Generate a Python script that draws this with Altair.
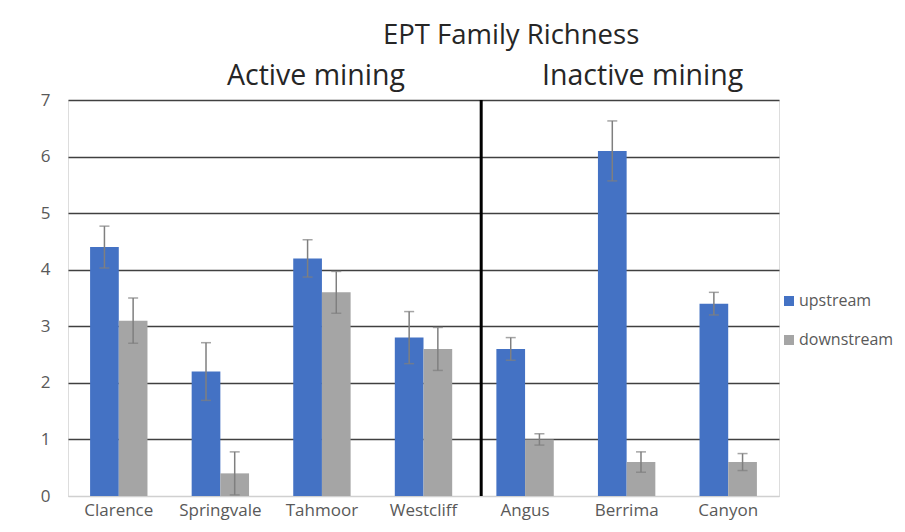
import altair as alt
import pandas as pd

sites = ["Clarence", "Springvale", "Tahmoor", "Westcliff", "Angus", "Berrima", "Canyon"]
streams = ["upstream", "downstream"]
upstream = [4.4, 2.2, 4.2, 2.8, 2.6, 6.1, 3.4]
downstream = [3.1, 0.4, 3.6, 2.6, 1.0, 0.6, 0.6]
up_err = [0.37, 0.51, 0.33, 0.46, 0.2, 0.53, 0.2]
down_err = [0.4, 0.38, 0.37, 0.38, 0.1, 0.18, 0.15]
y_ticks = [0, 1, 2, 3, 4, 5, 6, 7]
colors = ["#4472C4", "#A5A5A5"]

rows = []
for i, s in enumerate(sites):
    rows.append({"site": s, "stream": "upstream", "value": upstream[i],
                 "lo": upstream[i] - up_err[i], "hi": upstream[i] + up_err[i]})
    rows.append({"site": s, "stream": "downstream", "value": downstream[i],
                 "lo": downstream[i] - down_err[i], "hi": downstream[i] + down_err[i]})
df = pd.DataFrame(rows)

FONT = "Open Sans"

xenc = alt.X("site:N", sort=sites,
             scale=alt.Scale(paddingInner=0.435, paddingOuter=0.2175),
             axis=alt.Axis(title=None, labelAngle=0, labelFontSize=17, labelColor="#595959",
                           labelFont=FONT, ticks=False, domainColor="#d0d0d0",
                           domainWidth=1, labelPadding=6))
xoff = alt.XOffset("stream:N", sort=streams, scale=alt.Scale(paddingInner=0, paddingOuter=0))
yscale = alt.Scale(domain=[0, 7], nice=False)

base = alt.Chart(df)

bars = base.mark_bar().encode(
    x=xenc,
    xOffset=xoff,
    y=alt.Y("value:Q", scale=yscale,
            axis=alt.Axis(title=None, values=y_ticks, format="d", labelFontSize=17,
                          labelColor="#595959",
                          labelFont=FONT, ticks=False, domain=False, labelPadding=18,
                          gridColor=alt.condition("datum.value == 0", alt.value("#d0d0d0"), alt.value("#404040")),
                          gridWidth=1.3)),
    color=alt.Color("stream:N", sort=streams,
                    scale=alt.Scale(domain=streams, range=colors),
                    legend=alt.Legend(title=None, orient="none", legendX=713, legendY=193,
                                      symbolType="square", symbolSize=100, symbolStrokeWidth=0,
                                      labelFontSize=16, labelColor="#595959", labelFont=FONT,
                                      rowPadding=23, labelOffset=2, labelLimit=200)),
)

err = base.mark_rule(color="#7f7f7f", strokeWidth=1.5).encode(
    x=alt.X("site:N", sort=sites),
    xOffset=xoff,
    y=alt.Y("lo:Q", scale=yscale),
    y2="hi:Q",
)
cap_hi = base.mark_tick(color="#7f7f7f", thickness=1.5, size=10).encode(
    x=alt.X("site:N", sort=sites),
    xOffset=xoff,
    y=alt.Y("hi:Q", scale=yscale),
)
cap_lo = base.mark_tick(color="#7f7f7f", thickness=1.5, size=10).encode(
    x=alt.X("site:N", sort=sites),
    xOffset=xoff,
    y=alt.Y("lo:Q", scale=yscale),
)

divider = alt.Chart(pd.DataFrame({"site": ["Westcliff"]})).mark_rule(
    color="black", strokeWidth=3, xOffset=29
).encode(x=alt.X("site:N", sort=sites, bandPosition=1))

def label(site, text, dx, y, size):
    return alt.Chart(pd.DataFrame({"site": [site], "t": [text]})).mark_text(
        dx=dx, fontSize=size, font=FONT, color="#262626", baseline="middle", align="center"
    ).encode(x=alt.X("site:N", sort=sites), y=alt.value(y), text="t:N")

title = label("Angus", "EPT Family Richness", -14, -64, 27.5)
active = label("Tahmoor", "Active mining", -6, -24, 28.5)
inactive = label("Berrima", "Inactive mining", 16, -24, 28.5)

chart = alt.layer(bars, err, cap_hi, cap_lo, divider, title, active, inactive).properties(
    width=711, height=396,
    autosize=alt.AutoSizeParams(type="none"),
    padding={"left": 60, "top": 92, "right": 118, "bottom": 28},
).configure_view(stroke=None).configure(background="white")

chart.save("out.html", embed_options={"renderer": "svg", "actions": False})
